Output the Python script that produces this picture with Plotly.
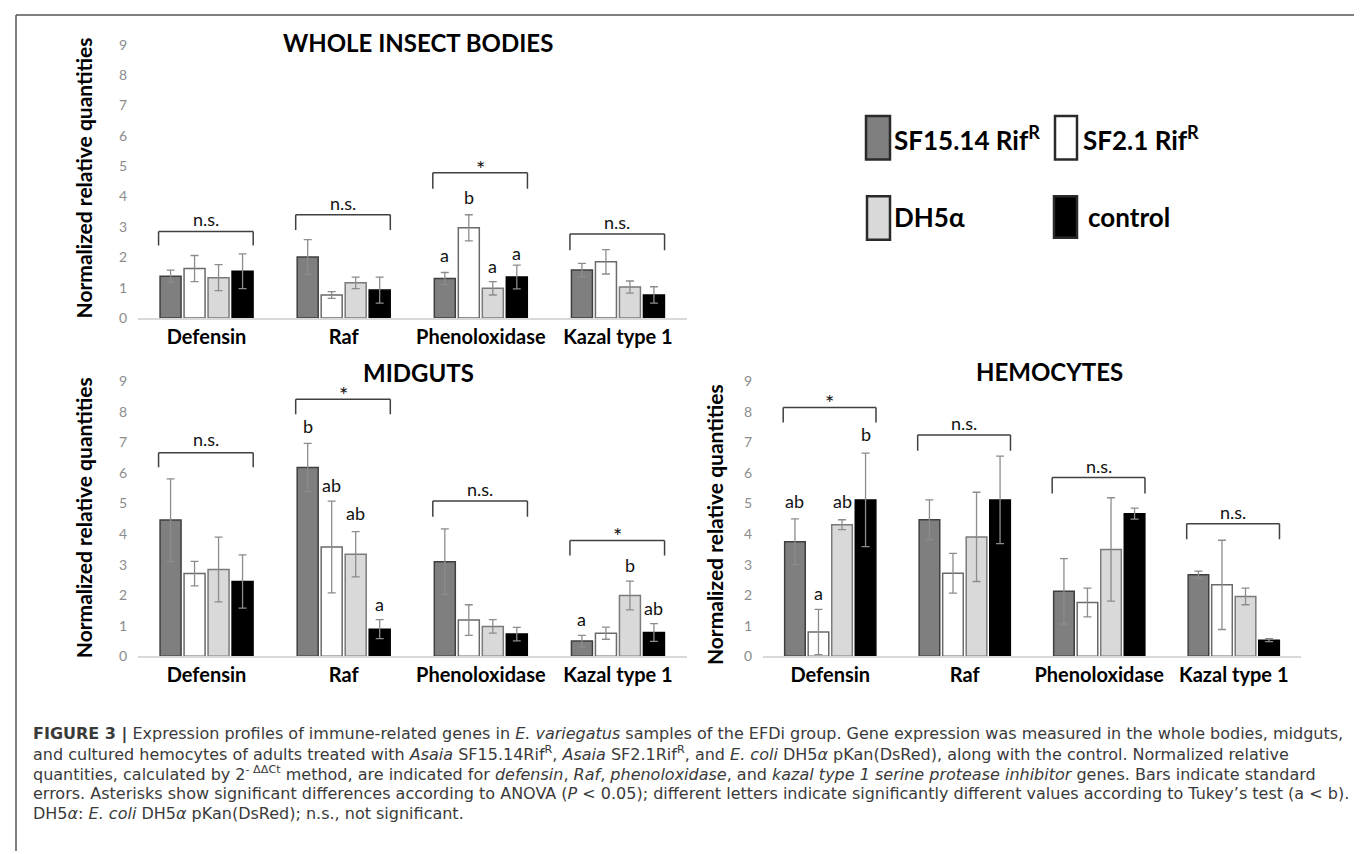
import plotly.graph_objects as go

W, H = 1362, 854

# ---------------- data ----------------
categories = ["Defensin", "Raf", "Phenoloxidase", "Kazal type 1"]
series_names = ["SF15.14 Rif<sup>R</sup>", "SF2.1 Rif<sup>R</sup>", "DH5α", "control"]
y_ticks = [0, 1, 2, 3, 4, 5, 6, 7, 8, 9]

# whole insect bodies
whole_sf15 = [1.38, 2.01, 1.30, 1.58]
whole_sf15_err = [0.20, 0.57, 0.20, 0.22]
whole_sf21 = [1.63, 0.76, 2.97, 1.85]
whole_sf21_err = [0.43, 0.11, 0.43, 0.40]
whole_dh5a = [1.33, 1.16, 0.98, 1.02]
whole_dh5a_err = [0.43, 0.19, 0.22, 0.20]
whole_ctrl = [1.54, 0.92, 1.35, 0.76]
whole_ctrl_err = [0.57, 0.43, 0.39, 0.27]

# midguts
midgut_sf15 = [4.46, 6.18, 3.10, 0.50]
midgut_sf15_err = [1.35, 0.79, 1.07, 0.19]
midgut_sf21 = [2.71, 3.58, 1.19, 0.76]
midgut_sf21_err = [0.40, 1.50, 0.50, 0.20]
midgut_dh5a = [2.84, 3.34, 0.98, 1.99]
midgut_dh5a_err = [1.06, 0.74, 0.22, 0.47]
midgut_ctrl = [2.45, 0.89, 0.73, 0.78]
midgut_ctrl_err = [0.87, 0.31, 0.22, 0.29]

# hemocytes
hemo_sf15 = [3.75, 4.47, 2.13, 2.67]
hemo_sf15_err = [0.75, 0.65, 1.07, 0.12]
hemo_sf21 = [0.80, 2.72, 1.76, 2.34]
hemo_sf21_err = [0.74, 0.65, 0.47, 1.46]
hemo_dh5a = [4.31, 3.91, 3.50, 1.96]
hemo_dh5a_err = [0.16, 1.46, 1.69, 0.27]
hemo_ctrl = [5.12, 5.12, 4.67, 0.53]
hemo_ctrl_err = [1.53, 1.43, 0.18, 0.05]

# significance brackets: (category index, label, bracket level, leg bottom, label level)
whole_brackets = [(0, "n.s.", 2.85, 2.39, 3.26), (1, "n.s.", 3.40, 2.90, 3.80),
                  (2, "*", 4.78, 4.26, 4.93), (3, "n.s.", 2.77, 2.23, 3.15)]
midgut_brackets = [(0, "n.s.", 6.66, 6.19, 7.11), (1, "*", 8.41, 7.92, 8.58),
                   (2, "n.s.", 5.08, 4.57, 5.49), (3, "*", 3.79, 3.30, 3.97)]
hemo_brackets = [(0, "*", 8.14, 7.65, 8.32), (1, "n.s.", 7.24, 6.73, 7.65),
                 (2, "n.s.", 5.85, 5.33, 6.22), (3, "n.s.", 4.34, 3.83, 4.74)]

# Tukey letters: (category index, series index, letter, level)
whole_letters = [(2, 0, "a", 2.07), (2, 1, "b", 4.00), (2, 2, "a", 1.72), (2, 3, "a", 2.15)]
midgut_letters = [(1, 0, "b", 7.54), (1, 1, "ab", 5.62), (1, 2, "ab", 4.68), (1, 3, "a", 1.70),
                  (3, 0, "a", 1.21), (3, 2, "b", 3.00), (3, 3, "ab", 1.59)]
hemo_letters = [(0, 0, "ab", 5.09), (0, 1, "a", 2.07), (0, 2, "ab", 5.09), (0, 3, "b", 7.27)]

panel_titles = ["WHOLE INSECT BODIES", "MIDGUTS", "HEMOCYTES"]
y_title = "Normalized relative quantities"

caption_lines = [
    "<b>FIGURE 3 |</b> Expression profiles of immune-related genes in <i>E. variegatus</i> samples of the EFDi group. Gene expression was measured in the whole bodies, midguts,",
    "and cultured hemocytes of adults treated with <i>Asaia</i> SF15.14Rif<sup>R</sup>, <i>Asaia</i> SF2.1Rif<sup>R</sup>, and <i>E. coli</i> DH5<i>α</i> pKan(DsRed), along with the control. Normalized relative",
    "quantities, calculated by 2<sup>- ΔΔCt</sup> method, are indicated for <i>defensin</i>, <i>Raf</i>, <i>phenoloxidase</i>, and <i>kazal type 1 serine protease inhibitor</i> genes. Bars indicate standard",
    "errors. Asterisks show significant differences according to ANOVA (<i>P</i> &lt; 0.05); different letters indicate significantly different values according to Tukey’s test (a &lt; b).",
    "DH5<i>α</i>: <i>E. coli</i> DH5<i>α</i> pKan(DsRed); n.s., not significant.",
]

# ---------------- styles ----------------
FONT = "Lato, Calibri, Carlito, 'Open Sans', sans-serif"
CAP_FONT = "'DejaVu Sans', 'Liberation Sans', Arial, sans-serif"
bar_fill = ["#7f7f7f", "#ffffff", "#d9d9d9", "#000000"]
bar_line = ["#3f3f3f", "#6a6a6a", "#7a7a7a", "#000000"]
err_color = "#8c8c8c"
bracket_color = "#404040"

def xp(px):
    return px / W

def yp(py):
    return 1 - py / H

# panel geometry in pixels: x left, x right, y of zero, px per unit
geo = [(130, 678.5, 313.0, 30.67), (130, 678.5, 654.5, 30.85), (755, 1293, 654.5, 30.85)]
title_pos = [(410, 35), (410, 368), (1041, 367)]
ytitle_pos = [(75, 172), (75, 515), (706, 522)]
YMAX = 9.4

panels = [
    ([whole_sf15, whole_sf21, whole_dh5a, whole_ctrl],
     [whole_sf15_err, whole_sf21_err, whole_dh5a_err, whole_ctrl_err],
     whole_brackets, whole_letters),
    ([midgut_sf15, midgut_sf21, midgut_dh5a, midgut_ctrl],
     [midgut_sf15_err, midgut_sf21_err, midgut_dh5a_err, midgut_ctrl_err],
     midgut_brackets, midgut_letters),
    ([hemo_sf15, hemo_sf21, hemo_dh5a, hemo_ctrl],
     [hemo_sf15_err, hemo_sf21_err, hemo_dh5a_err, hemo_ctrl_err],
     hemo_brackets, hemo_letters),
]

BARGAP = 0.3
slot = (1 - BARGAP) / 4
offsets = [(-1.5 + k) * slot for k in range(4)]

fig = go.Figure()
shapes = []
annotations = []
layout_axes = {}

for p, (vals, errs, brackets, letters) in enumerate(panels):
    n = "" if p == 0 else str(p + 1)
    xa, ya = "x" + n, "y" + n
    x0, x1, y0, unit = geo[p]
    for s in range(4):
        fig.add_trace(go.Bar(
            x=categories, y=vals[s], name=series_names[s],
            error_y=dict(type="data", array=errs[s], visible=True,
                         color=err_color, thickness=1.3, width=4),
            marker=dict(color=bar_fill[s], line=dict(color=bar_line[s], width=1.5)),
            xaxis=xa, yaxis=ya, showlegend=False, hoverinfo="skip"))
    layout_axes["xaxis" + n] = dict(
        domain=[xp(x0), xp(x1)], anchor=ya, type="category",
        categoryorder="array", categoryarray=categories, range=[-0.5, 3.5],
        showline=True, linecolor="#d9d9d9", linewidth=1.5, ticks="",
        showgrid=False, zeroline=False, ticklabelstandoff=0,
        tickfont=dict(family=FONT, size=20, color="#000000", weight="bold"))
    layout_axes["yaxis" + n] = dict(
        domain=[yp(y0), yp(y0 - YMAX * unit)], anchor=xa, range=[0, YMAX],
        tickmode="array", tickvals=y_ticks, showgrid=False, zeroline=False,
        showline=False, ticks="", ticklabelstandoff=10,
        tickfont=dict(family=FONT, size=14, color="#8c8c8c"))
    # brackets
    for (c, lab, top, leg, ly) in brackets:
        bl, br = c - 0.35, c + 0.34
        for (ax0, ay0, ax1, ay1) in [(bl, leg, bl, top), (bl, top, br, top), (br, top, br, leg)]:
            shapes.append(dict(type="line", xref=xa, yref=ya, x0=ax0, y0=ay0, x1=ax1, y1=ay1,
                               line=dict(color=bracket_color, width=1.5)))
        fsize = 22 if lab == "*" else 18
        annotations.append(dict(xref=xa, yref=ya, x=(bl + br) / 2, y=ly, text=lab,
                                showarrow=False, xanchor="center", yanchor="middle",
                                font=dict(family=FONT, size=fsize, color="#111111")))
    for (c, s, lab, ly) in letters:
        annotations.append(dict(xref=xa, yref=ya, x=c + offsets[s], y=ly, text=lab,
                                showarrow=False, xanchor="center", yanchor="middle",
                                font=dict(family=FONT, size=18, color="#111111")))
    # titles
    tx, ty = title_pos[p]
    annotations.append(dict(xref="paper", yref="paper", x=xp(tx), y=yp(ty), text=panel_titles[p],
                            showarrow=False, xanchor="center", yanchor="middle",
                            font=dict(family=FONT, size=24, color="#000000", weight="bold")))
    yx, yy = ytitle_pos[p]
    annotations.append(dict(xref="paper", yref="paper", x=xp(yx), y=yp(yy), text=y_title,
                            textangle=-90, showarrow=False, xanchor="center", yanchor="middle",
                            font=dict(family=FONT, size=21, color="#000000", weight="bold")))

# legend drawn manually
legend_boxes = [(858, 882, 109, 153), (1047, 1069, 109, 153), (859, 882, 190, 234), (1046, 1069, 190, 232)]
legend_text_pos = [(884, 132), (1073, 132), (884, 211), (1078, 211)]
for s in range(4):
    bx0, bx1, by0, by1 = legend_boxes[s]
    shapes.append(dict(type="rect", xref="paper", yref="paper", x0=xp(bx0), x1=xp(bx1),
                       y0=yp(by1), y1=yp(by0), fillcolor=bar_fill[s],
                       line=dict(color="#2a2a2a", width=2.5)))
    lx, ly = legend_text_pos[s]
    annotations.append(dict(xref="paper", yref="paper", x=xp(lx), y=yp(ly), text=series_names[s],
                            showarrow=False, xanchor="left", yanchor="middle",
                            font=dict(family=FONT, size=26, color="#000000", weight="bold")))

# caption
cap_y = [733, 753, 773, 793, 813]
for i, line in enumerate(caption_lines):
    annotations.append(dict(xref="paper", yref="paper", x=xp(23), y=yp(cap_y[i]), text=line,
                            showarrow=False, xanchor="left", yanchor="middle", align="left",
                            font=dict(family=CAP_FONT, size=16, color="#3a3a3a")))

# outer frame
for (fx0, fy0, fx1, fy1) in [(8, 7, 1355, 7), (8, 7, 8, 851), (1355, 7, 1355, 851)]:
    shapes.append(dict(type="line", xref="paper", yref="paper", x0=xp(fx0), y0=yp(fy0),
                       x1=xp(fx1), y1=yp(fy1), line=dict(color="#555555", width=1.5)))

fig.update_layout(
    width=W, height=H, margin=dict(l=0, r=0, t=0, b=0),
    paper_bgcolor="white", plot_bgcolor="rgba(0,0,0,0)",
    barmode="group", bargap=BARGAP, bargroupgap=0.125,
    shapes=shapes, annotations=annotations, showlegend=False,
    **layout_axes)

fig.write_html("out.html")
